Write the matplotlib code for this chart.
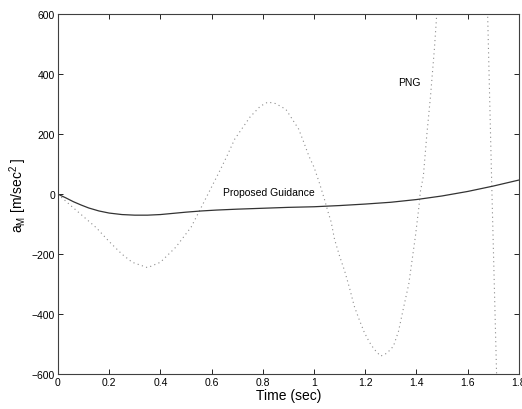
import matplotlib
matplotlib.use("Agg")
import matplotlib.pyplot as plt

plt.rcParams['font.family'] = ['Liberation Sans', 'DejaVu Sans']

# Proposed guidance acceleration command
t_prop = [0.0, 0.03, 0.06, 0.09, 0.12, 0.16, 0.2, 0.25, 0.3, 0.35, 0.4, 0.45,
          0.5, 0.56, 0.62, 0.7, 0.8, 0.9, 1.0, 1.1, 1.2, 1.3, 1.4, 1.5,
          1.6, 1.7, 1.8]
a_prop = [0, -12, -25, -36, -46, -56, -63, -68, -70, -70, -68, -64,
          -60, -56, -53, -50, -47, -44, -42, -38, -33, -27, -18, -6,
          9, 27, 47]

# PNG acceleration command
t_png = [0.0, 0.05, 0.1, 0.15, 0.2, 0.25, 0.29, 0.35, 0.4, 0.46, 0.52, 0.55,
         0.59, 0.635, 0.66, 0.69, 0.75, 0.79, 0.82, 0.85, 0.89, 0.94, 0.96,
         0.98, 1.0, 1.02, 1.04, 1.055, 1.067, 1.08, 1.10, 1.12, 1.14, 1.157,
         1.176, 1.196, 1.216, 1.235, 1.26, 1.285, 1.31, 1.33, 1.34, 1.35, 1.37,
         1.396, 1.41, 1.415, 1.427, 1.44, 1.455, 1.47, 1.478, 1.49, 1.55, 1.62,
         1.66, 1.678, 1.695, 1.713, 1.73, 1.8]
a_png = [0, -38, -75, -112, -158, -200, -227, -245, -227, -177, -110, -60,
         7, 83, 127, 183, 257, 293, 307, 302, 283, 217, 173,
         127, 90, 40, -15, -60, -93, -150, -207, -257, -317, -373,
         -417, -460, -493, -517, -540, -530, -507, -457, -417, -377, -300,
         -140, -40, 7, 60, 193, 327, 483, 583, 750, 1400, 1600,
         1100, 600, 0, -600, -900, -1500]

x_ticks = [0, 0.2, 0.4, 0.6, 0.8, 1.0, 1.2, 1.4, 1.6, 1.8]
x_tick_labels = ['0', '0.2', '0.4', '0.6', '0.8', '1', '1.2', '1.4', '1.6', '1.8']
y_ticks = [-600, -400, -200, 0, 200, 400, 600]

fig = plt.figure(figsize=(5.22, 4.10), dpi=100)
ax = fig.add_axes([0.111, 0.085, 0.883, 0.878])

ax.plot(t_png, a_png, linestyle=(0, (1, 3)), color='0.55', linewidth=0.8)
ax.plot(t_prop, a_prop, linestyle='-', color='0.2', linewidth=0.9)

ax.set_xlim(0, 1.8)
ax.set_ylim(-600, 600)
ax.set_xticks(x_ticks)
ax.set_xticklabels(x_tick_labels)
ax.set_yticks(y_ticks)

ax.tick_params(direction='in', top=True, right=True, length=3.5, width=0.6,
               labelsize=7.5, pad=2, colors='black')
for s in ax.spines.values():
    s.set_linewidth(0.8)
    s.set_color('0.25')

ax.set_xlabel('Time (sec)', fontsize=10, labelpad=1)
ax.set_ylabel('a$_\\mathregular{M}$ [m/sec$^\\mathregular{2}$ ]', fontsize=10, labelpad=2)

ax.text(1.33, 375, 'PNG', fontsize=7.5, va='center', ha='left')
ax.text(0.645, 8, 'Proposed Guidance', fontsize=7.5, va='center', ha='left')

fig.savefig('out.png', dpi=100)
